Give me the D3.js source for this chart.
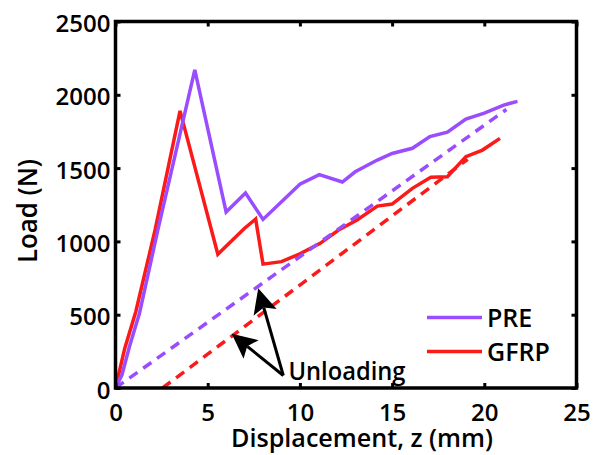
<!DOCTYPE html>
<html>
<head>
<meta charset="utf-8">
<script src="https://cdn.jsdelivr.net/npm/d3@7"></script>
<style>
  html, body { margin: 0; padding: 0; background: #fff; }
  svg { display: block; font-family: "Open Sans", "Liberation Sans", sans-serif; }
</style>
</head>
<body>
<svg id="chart" width="600" height="455"></svg>
<script>
// Load–displacement curves (mm, N)
const prePos  = [0, 0.35, 0.75, 1.3, 2.3, 4.3, 6.0, 7.05, 8.0, 10.0, 11.05, 12.3, 13.0, 14.2, 15.0, 16.1, 17.05, 18.0, 19.0, 20.0, 21.05, 21.8];
const preLoad = [0, 90, 280, 510, 1080, 2170, 1200, 1330, 1150, 1390, 1455, 1405, 1475, 1555, 1600, 1635, 1715, 1745, 1835, 1875, 1930, 1955];

const gfrpPos  = [0, 0.5, 1.1, 2.15, 3.5, 5.55, 7.0, 7.6, 8.0, 9.0, 10.0, 11.1, 12.1, 13.1, 14.2, 15.0, 16.1, 17.1, 18.0, 19.0, 19.9, 20.85];
const gfrpLoad = [0, 270, 520, 1080, 1890, 912, 1090, 1153, 845, 862, 915, 987, 1078, 1146, 1241, 1255, 1362, 1437, 1441, 1578, 1623, 1703];

// Unloading lines
const preUnloadPos   = [0, 21.2];
const preUnloadLoad  = [0, 1900];
const gfrpUnloadPos  = [2.55, 19.1];
const gfrpUnloadLoad = [0, 1560];

const xTicks = [0, 5, 10, 15, 20, 25];
const yTicks = [0, 500, 1000, 1500, 2000, 2500];

const seriesNames = ["PRE", "GFRP"];
const colors = { PRE: "#9a4cff", GFRP: "#fb1a1a" };

// Annotation anchors in data units
const arrowTail = [9.1, 85];
const arrowTips = [[7.74, 680], [6.3, 370]];
const annotationText = "Unloading";
const annotationAt = [9.38, 55];

const svg = d3.select("#chart");
const x = d3.scaleLinear().domain([0, 25]).range([115.5, 576.5]);
const y = d3.scaleLinear().domain([0, 2500]).range([388, 21.5]);

const zip = (a, b) => a.map((v, i) => [v, b[i]]);
const line = d3.line().x(d => x(d[0])).y(d => y(d[1]));

const plot = svg.append("g");

// solid curves
plot.append("path").datum(zip(gfrpPos, gfrpLoad))
  .attr("d", line).attr("fill", "none")
  .attr("stroke", colors.GFRP).attr("stroke-width", 3.5).attr("stroke-linejoin", "miter");
plot.append("path").datum(zip(prePos, preLoad))
  .attr("d", line).attr("fill", "none")
  .attr("stroke", colors.PRE).attr("stroke-width", 3.5).attr("stroke-linejoin", "miter");

// dashed unloading lines
plot.append("path").datum(zip(gfrpUnloadPos, gfrpUnloadLoad))
  .attr("d", line).attr("fill", "none")
  .attr("stroke", colors.GFRP).attr("stroke-width", 3.5).attr("stroke-dasharray", "10,7");
plot.append("path").datum(zip(preUnloadPos, preUnloadLoad))
  .attr("d", line).attr("fill", "none")
  .attr("stroke", colors.PRE).attr("stroke-width", 3.5).attr("stroke-dasharray", "10,7");

// axes box with inward ticks on all sides
const fontSize = 24;
const fmt = d3.format("d");
const axB = svg.append("g").attr("transform", `translate(0,${y(0)})`)
  .call(d3.axisBottom(x).tickValues(xTicks).tickFormat(fmt).tickSizeInner(-5).tickSizeOuter(0).tickPadding(16));
const axT = svg.append("g").attr("transform", `translate(0,${y(2500)})`)
  .call(d3.axisTop(x).tickValues(xTicks).tickSizeInner(-5).tickSizeOuter(0).tickFormat(""));
const axL = svg.append("g").attr("transform", `translate(${x(0)},0)`)
  .call(d3.axisLeft(y).tickValues(yTicks).tickFormat(fmt).tickSizeInner(-5).tickSizeOuter(0).tickPadding(5));
const axR = svg.append("g").attr("transform", `translate(${x(25)},0)`)
  .call(d3.axisRight(y).tickValues(yTicks).tickSizeInner(-5).tickSizeOuter(0).tickFormat(""));

[axB, axT, axL, axR].forEach(g => {
  g.select(".domain").remove();
  g.selectAll(".tick line").attr("stroke", "#000").attr("stroke-width", 3);
  g.selectAll(".tick text").attr("fill", "#000")
    .style("font-size", fontSize + "px").style("font-weight", 600)
    .style("font-family", '"Open Sans", sans-serif');
});
axL.selectAll(".tick text").attr("dy", "0.42em");

svg.append("rect")
  .attr("x", x(0)).attr("y", y(2500))
  .attr("width", x(25) - x(0)).attr("height", y(0) - y(2500))
  .attr("fill", "none").attr("stroke", "#000").attr("stroke-width", 3.5);

// axis titles
svg.append("text")
  .attr("x", 362).attr("y", 447)
  .attr("text-anchor", "middle")
  .attr("textLength", 262).attr("lengthAdjust", "spacingAndGlyphs")
  .style("font-size", "26px").style("font-weight", 600)
  .text("Displacement, z (mm)");

svg.append("text")
  .attr("transform", "translate(37,211) rotate(-90)")
  .attr("text-anchor", "middle")
  .attr("textLength", 104).attr("lengthAdjust", "spacingAndGlyphs")
  .style("font-size", "27px").style("font-weight", 600)
  .text("Load (N)");

// legend
const legend = svg.append("g");
seriesNames.forEach((name, i) => {
  const ly = 317.5 + i * 34;
  legend.append("line")
    .attr("x1", 427).attr("x2", 482).attr("y1", ly).attr("y2", ly)
    .attr("stroke", colors[name]).attr("stroke-width", 3.5);
  legend.append("text")
    .attr("x", 487).attr("y", ly + 9)
    .style("font-size", "25px").style("font-weight", 600)
    .text(name);
});

// annotation arrows
const ann = svg.append("g");
const tail = [x(arrowTail[0]), y(arrowTail[1])];
arrowTips.forEach(t => {
  const tip = [x(t[0]), y(t[1])];
  const dx = tip[0] - tail[0], dy = tip[1] - tail[1];
  const len = Math.hypot(dx, dy);
  const ux = dx / len, uy = dy / len;
  const px = -uy, py = ux;
  const headLen = 25, halfW = 12, notch = 5;
  const base = [tip[0] - ux * headLen, tip[1] - uy * headLen];
  const back = [tip[0] - ux * (headLen - notch), tip[1] - uy * (headLen - notch)];
  ann.append("line")
    .attr("x1", tail[0]).attr("y1", tail[1])
    .attr("x2", back[0]).attr("y2", back[1])
    .attr("stroke", "#000").attr("stroke-width", 3);
  ann.append("path")
    .attr("d", `M${tip[0]},${tip[1]} L${base[0] + px * halfW},${base[1] + py * halfW} L${back[0]},${back[1]} L${base[0] - px * halfW},${base[1] - py * halfW} Z`)
    .attr("fill", "#000");
});
ann.append("text")
  .attr("x", x(annotationAt[0])).attr("y", y(annotationAt[1]))
  .attr("textLength", 117).attr("lengthAdjust", "spacingAndGlyphs")
  .style("font-size", "26px").style("font-weight", 600)
  .text(annotationText);
</script>
</body>
</html>
